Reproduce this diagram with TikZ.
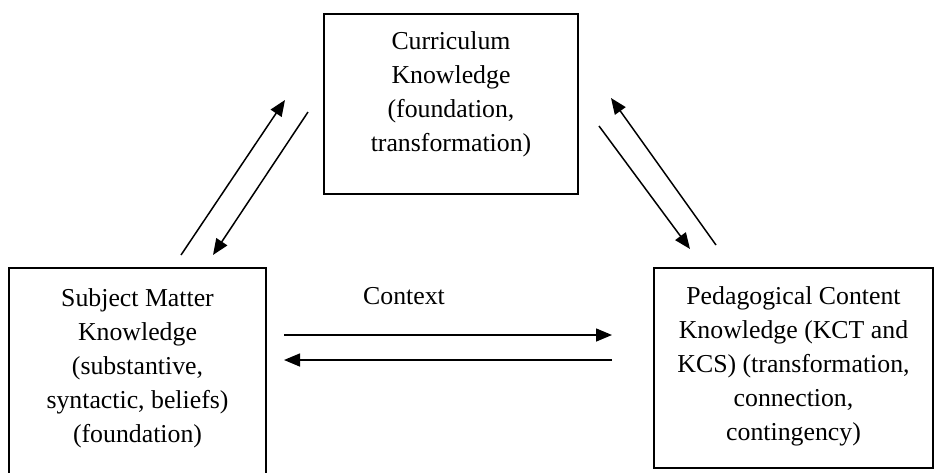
\documentclass[tikz,border=0pt]{standalone}
\usepackage{fontspec}
\setmainfont{Liberation Serif}
\usetikzlibrary{arrows.meta}
\begin{document}
\begin{tikzpicture}[x=1pt,y=-1pt,
  box/.style={draw, line width=1.4pt, inner sep=0pt},
  txt/.style={align=center, font=\fontsize{25.8}{34}\selectfont, inner sep=0pt},
  link/.style={line width=1.5pt, -{Triangle[length=16pt,width=13pt]}}]
\useasboundingbox (0,0) rectangle (934,472);

% the three knowledge boxes
\node[box, minimum width=254pt, minimum height=180pt] (curr) at (451,104) {};
\node[box, minimum width=257pt, minimum height=212pt] (smk) at (137.5,374) {};
\node[box, minimum width=279pt, minimum height=200pt] (pck) at (793.5,368) {};

% box texts
\node[txt, anchor=north] (currtxt) at (451,31)
  {Curriculum\\Knowledge\\(foundation,\\transformation)};
\node[txt, anchor=north] (smktxt) at (137.5,288)
  {Subject Matter\\Knowledge\\(substantive,\\syntactic, beliefs)\\(foundation)};
\node[txt, anchor=north] (pcktxt) at (793.5,286)
  {Pedagogical Content\\Knowledge (KCT and\\KCS) (transformation,\\connection,\\contingency)};
\node[txt] (ctx) at (404,296) {Context};

% arrow end points
\coordinate (a1s) at (181,255);
\coordinate (a1e) at (285,100);
\coordinate (a2s) at (308,112);
\coordinate (a2e) at (213,255);
\coordinate (a3s) at (599,126);
\coordinate (a3e) at (690,249);
\coordinate (a4s) at (716,245);
\coordinate (a4e) at (611,98);
\coordinate (a5s) at (284,335);
\coordinate (a5e) at (612,335);
\coordinate (a6s) at (612,360);
\coordinate (a6e) at (284,360);

\draw[link] (a1s) -- (a1e);
\draw[link] (a2s) -- (a2e);
\draw[link] (a3s) -- (a3e);
\draw[link] (a4s) -- (a4e);
\draw[link] (a5s) -- (a5e);
\draw[link] (a6s) -- (a6e);
\end{tikzpicture}
\end{document}
